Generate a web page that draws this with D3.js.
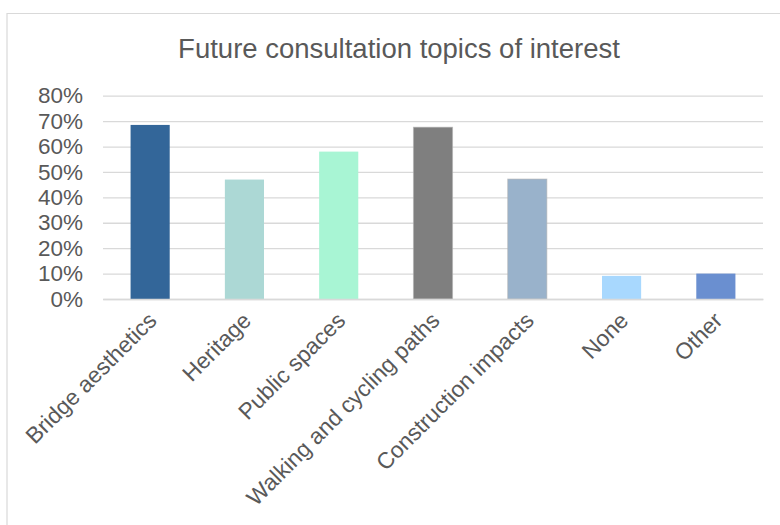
<!DOCTYPE html>
<html>
<head>
<meta charset="utf-8">
<script src="https://cdn.jsdelivr.net/npm/d3@7/dist/d3.min.js"></script>
<style>
  html, body { margin: 0; padding: 0; background: #fff; }
  svg { display: block; font-family: "Liberation Sans", Arial, sans-serif; }
</style>
</head>
<body>
<svg id="chart" width="780" height="525"></svg>
<script>
// Survey results: share of respondents interested in each topic
const categories = ["Bridge aesthetics", "Heritage", "Public spaces", "Walking and cycling paths", "Construction impacts", "None", "Other"];
const values = [0.685, 0.47, 0.58, 0.676, 0.472, 0.091, 0.10];
const barColors = ["#336699", "#acd8d5", "#a8f5d4", "#7f7f7f", "#99b2cb", "#a8d8fe", "#6a8fd0"];
const yTicks = [0, 0.1, 0.2, 0.3, 0.4, 0.5, 0.6, 0.7, 0.8];
const title = "Future consultation topics of interest";

const svg = d3.select("#chart");
const W = 780, H = 525;
const plot = { left: 103, right: 763, top: 95.7, bottom: 299 };

// chart area frame
svg.append("path")
  .attr("d", `M7,${H} L7,13.5 L${W},13.5`)
  .attr("fill", "none")
  .attr("stroke", "#d9d9d9")
  .attr("stroke-width", 1.2);

svg.append("text")
  .attr("x", 399)
  .attr("y", 58)
  .attr("text-anchor", "middle")
  .attr("fill", "#595959")
  .attr("font-size", 27.5)
  .text(title);

const x = d3.scaleBand()
  .domain(categories)
  .range([plot.left, plot.right])
  .paddingInner(0.585)
  .paddingOuter(0.2925);

const y = d3.scaleLinear()
  .domain([0, 0.8])
  .range([plot.bottom, plot.top]);

// horizontal gridlines
const yAxis = d3.axisLeft(y)
  .tickValues(yTicks)
  .tickFormat(d3.format(".0%"))
  .tickSize(-(plot.right - plot.left))
  .tickPadding(20);

const gy = svg.append("g")
  .attr("transform", `translate(${plot.left},0)`)
  .call(yAxis);
gy.select(".domain").remove();
gy.selectAll(".tick line")
  .attr("stroke", "#d9d9d9")
  .attr("stroke-width", 1.3);
gy.selectAll(".tick text")
  .attr("fill", "#595959")
  .attr("font-size", 22.5)
  .attr("font-family", "Liberation Sans, Arial, sans-serif");

// bars
svg.append("g")
  .selectAll("rect")
  .data(categories)
  .join("rect")
  .attr("x", d => x(d))
  .attr("width", x.bandwidth())
  .attr("y", (d, i) => y(values[i]))
  .attr("height", (d, i) => y(0) - y(values[i]))
  .attr("fill", (d, i) => barColors[i])
  .attr("stroke", (d, i) => (i === 3 || i === 4) ? "#b0b0b0" : "none")
  .attr("stroke-opacity", 0.6)
  .attr("stroke-width", 1);

// category axis with rotated labels
const xAxis = d3.axisBottom(x).tickSize(0).tickPadding(0);
const gx = svg.append("g")
  .attr("transform", `translate(0,${plot.bottom})`)
  .call(xAxis);
gx.select(".domain")
  .attr("stroke", "#d9d9d9")
  .attr("stroke-width", 1.3);
gx.selectAll(".tick text")
  .attr("fill", "#595959")
  .attr("font-size", 22.7)
  .attr("font-family", "Liberation Sans, Arial, sans-serif")
  .attr("text-anchor", "end")
  .attr("dy", null)
  .attr("transform", "translate(8,23) rotate(-45)");
</script>
</body>
</html>
